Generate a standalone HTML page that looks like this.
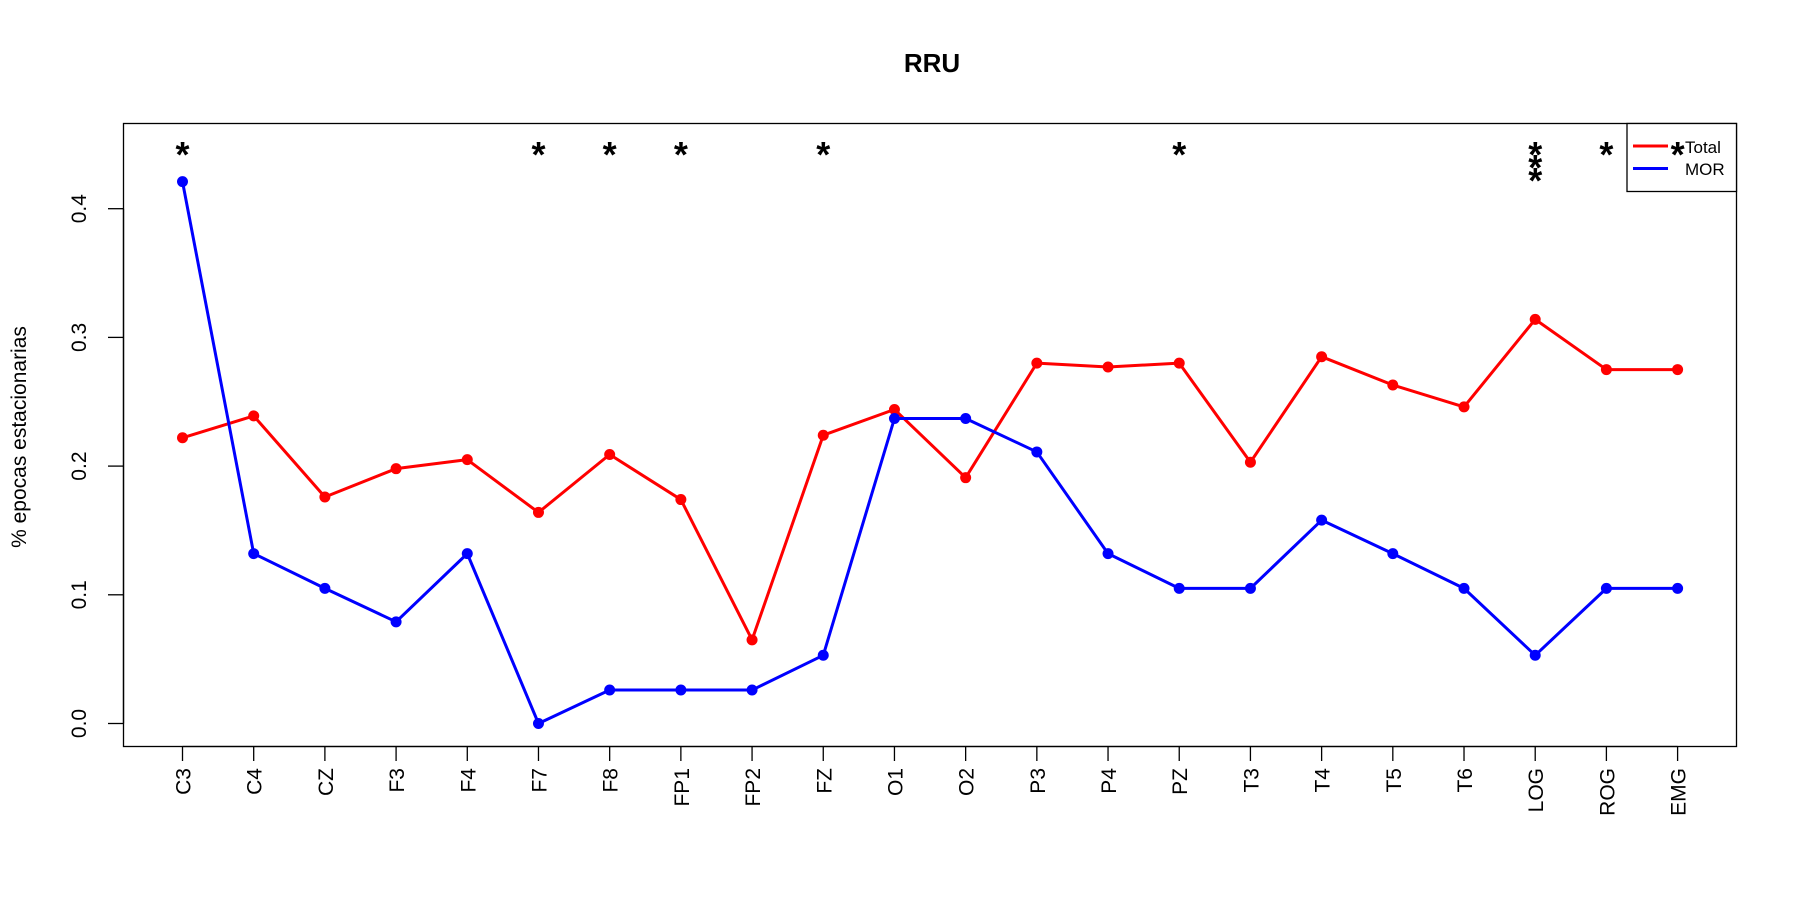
<!DOCTYPE html>
<html><head><meta charset="utf-8"><style>
html,body{margin:0;padding:0;background:#fff;}
svg{display:block;font-family:"Liberation Sans",Arial,sans-serif;}
</style></head><body>
<svg id="chart" width="1800" height="900" viewBox="0 0 1800 900">
<text x="932" y="72" text-anchor="middle" font-size="26" font-weight="bold">RRU</text>
<rect x="123.5" y="123.5" width="1613" height="623" fill="none" stroke="#000" stroke-width="1.3"/>
<text transform="translate(26,437) rotate(-90)" text-anchor="middle" font-size="21">% epocas estacionarias</text>
<g id="yaxis"></g>
<g id="xaxis"></g>
<g id="series"></g>
<g>
<rect x="1627" y="123.5" width="109.5" height="68" fill="#fff" stroke="#000" stroke-width="1.3"/>
<line x1="1633" y1="146" x2="1668" y2="146" stroke="#ff0000" stroke-width="3"/>
<text x="1685" y="153" font-size="17">Total</text>
<line x1="1633" y1="168.5" x2="1668" y2="168.5" stroke="#0000ff" stroke-width="3"/>
<text x="1685" y="175" font-size="17">MOR</text>
</g>
<g id="stars"></g>
</svg>
<script>
const categories=["C3","C4","CZ","F3","F4","F7","F8","FP1","FP2","FZ","O1","O2","P3","P4","PZ","T3","T4","T5","T6","LOG","ROG","EMG"];
const totalValues=[0.222,0.239,0.176,0.198,0.205,0.164,0.209,0.174,0.065,0.224,0.244,0.191,0.280,0.277,0.280,0.203,0.285,0.263,0.246,0.314,0.275,0.275];
const morValues=[0.421,0.132,0.105,0.079,0.132,0.000,0.026,0.026,0.026,0.053,0.237,0.237,0.211,0.132,0.105,0.105,0.158,0.132,0.105,0.053,0.105,0.105];
const starCounts=[1,0,0,0,0,1,1,1,0,1,0,0,0,0,1,0,0,0,0,3,1,1];
const yTicks=[0,0.1,0.2,0.3,0.4];
const yTickLabels=["0.0","0.1","0.2","0.3","0.4"];
const NS="http://www.w3.org/2000/svg";
function xs(i){return 182.5+i*(1677.6-182.5)/(categories.length-1);}
function ys(v){return 723.5-v*1287;}
function mk(tag,attrs,parent){const e=document.createElementNS(NS,tag);for(const k in attrs)e.setAttribute(k,attrs[k]);parent.appendChild(e);return e;}
const ya=document.getElementById('yaxis');
mk('line',{x1:123.5,x2:123.5,y1:ys(0),y2:ys(0.4),stroke:'#000','stroke-width':1.3},ya);
yTicks.forEach((v,i)=>{
 const t=mk('line',{x1:108,x2:123.5,y1:ys(v),y2:ys(v),stroke:'#000','stroke-width':1.3},ya);
 
 
 const l=mk('text',{transform:`translate(86,${ys(v)}) rotate(-90)`,'text-anchor':'middle','font-size':21},ya);
 l.textContent=yTickLabels[i];
 
 
});
const xa=document.getElementById('xaxis');
mk('line',{x1:xs(0),x2:xs(categories.length-1),y1:746.5,y2:746.5,stroke:'#000','stroke-width':1.3},xa);
categories.forEach((c,i)=>{
 const t=mk('line',{x1:xs(i),x2:xs(i),y1:746.5,y2:761,stroke:'#000','stroke-width':1.3},xa);
 
 
 const l=mk('text',{transform:`translate(${xs(i)+8},768) rotate(-90)`,'text-anchor':'end','font-size':21},xa);
 l.textContent=c;
 
 
});
const sg=document.getElementById('series');
function drawSeries(vals,color,name){
 const pts=vals.map((v,i)=>xs(i)+','+ys(v)).join(' ');
 const pl=mk('polyline',{points:pts,fill:'none',stroke:color,'stroke-width':3,'stroke-linejoin':'round'},sg);
 
 
 vals.forEach((v,i)=>{
  const c=mk('circle',{cx:xs(i),cy:ys(v),r:5.5,fill:color},sg);
  
  
 });
}
drawSeries(totalValues,'#ff0000','total');
drawSeries(morValues,'#0000ff','mor');
const st=document.getElementById('stars');
starCounts.forEach((n,i)=>{
 for(let k=0;k<n;k++){
  const s=mk('text',{x:xs(i),y:167+k*13,'text-anchor':'middle','font-size':36,'font-weight':'bold'},st);
  s.textContent='*';
  
  
 }
});
</script>
</body></html>
